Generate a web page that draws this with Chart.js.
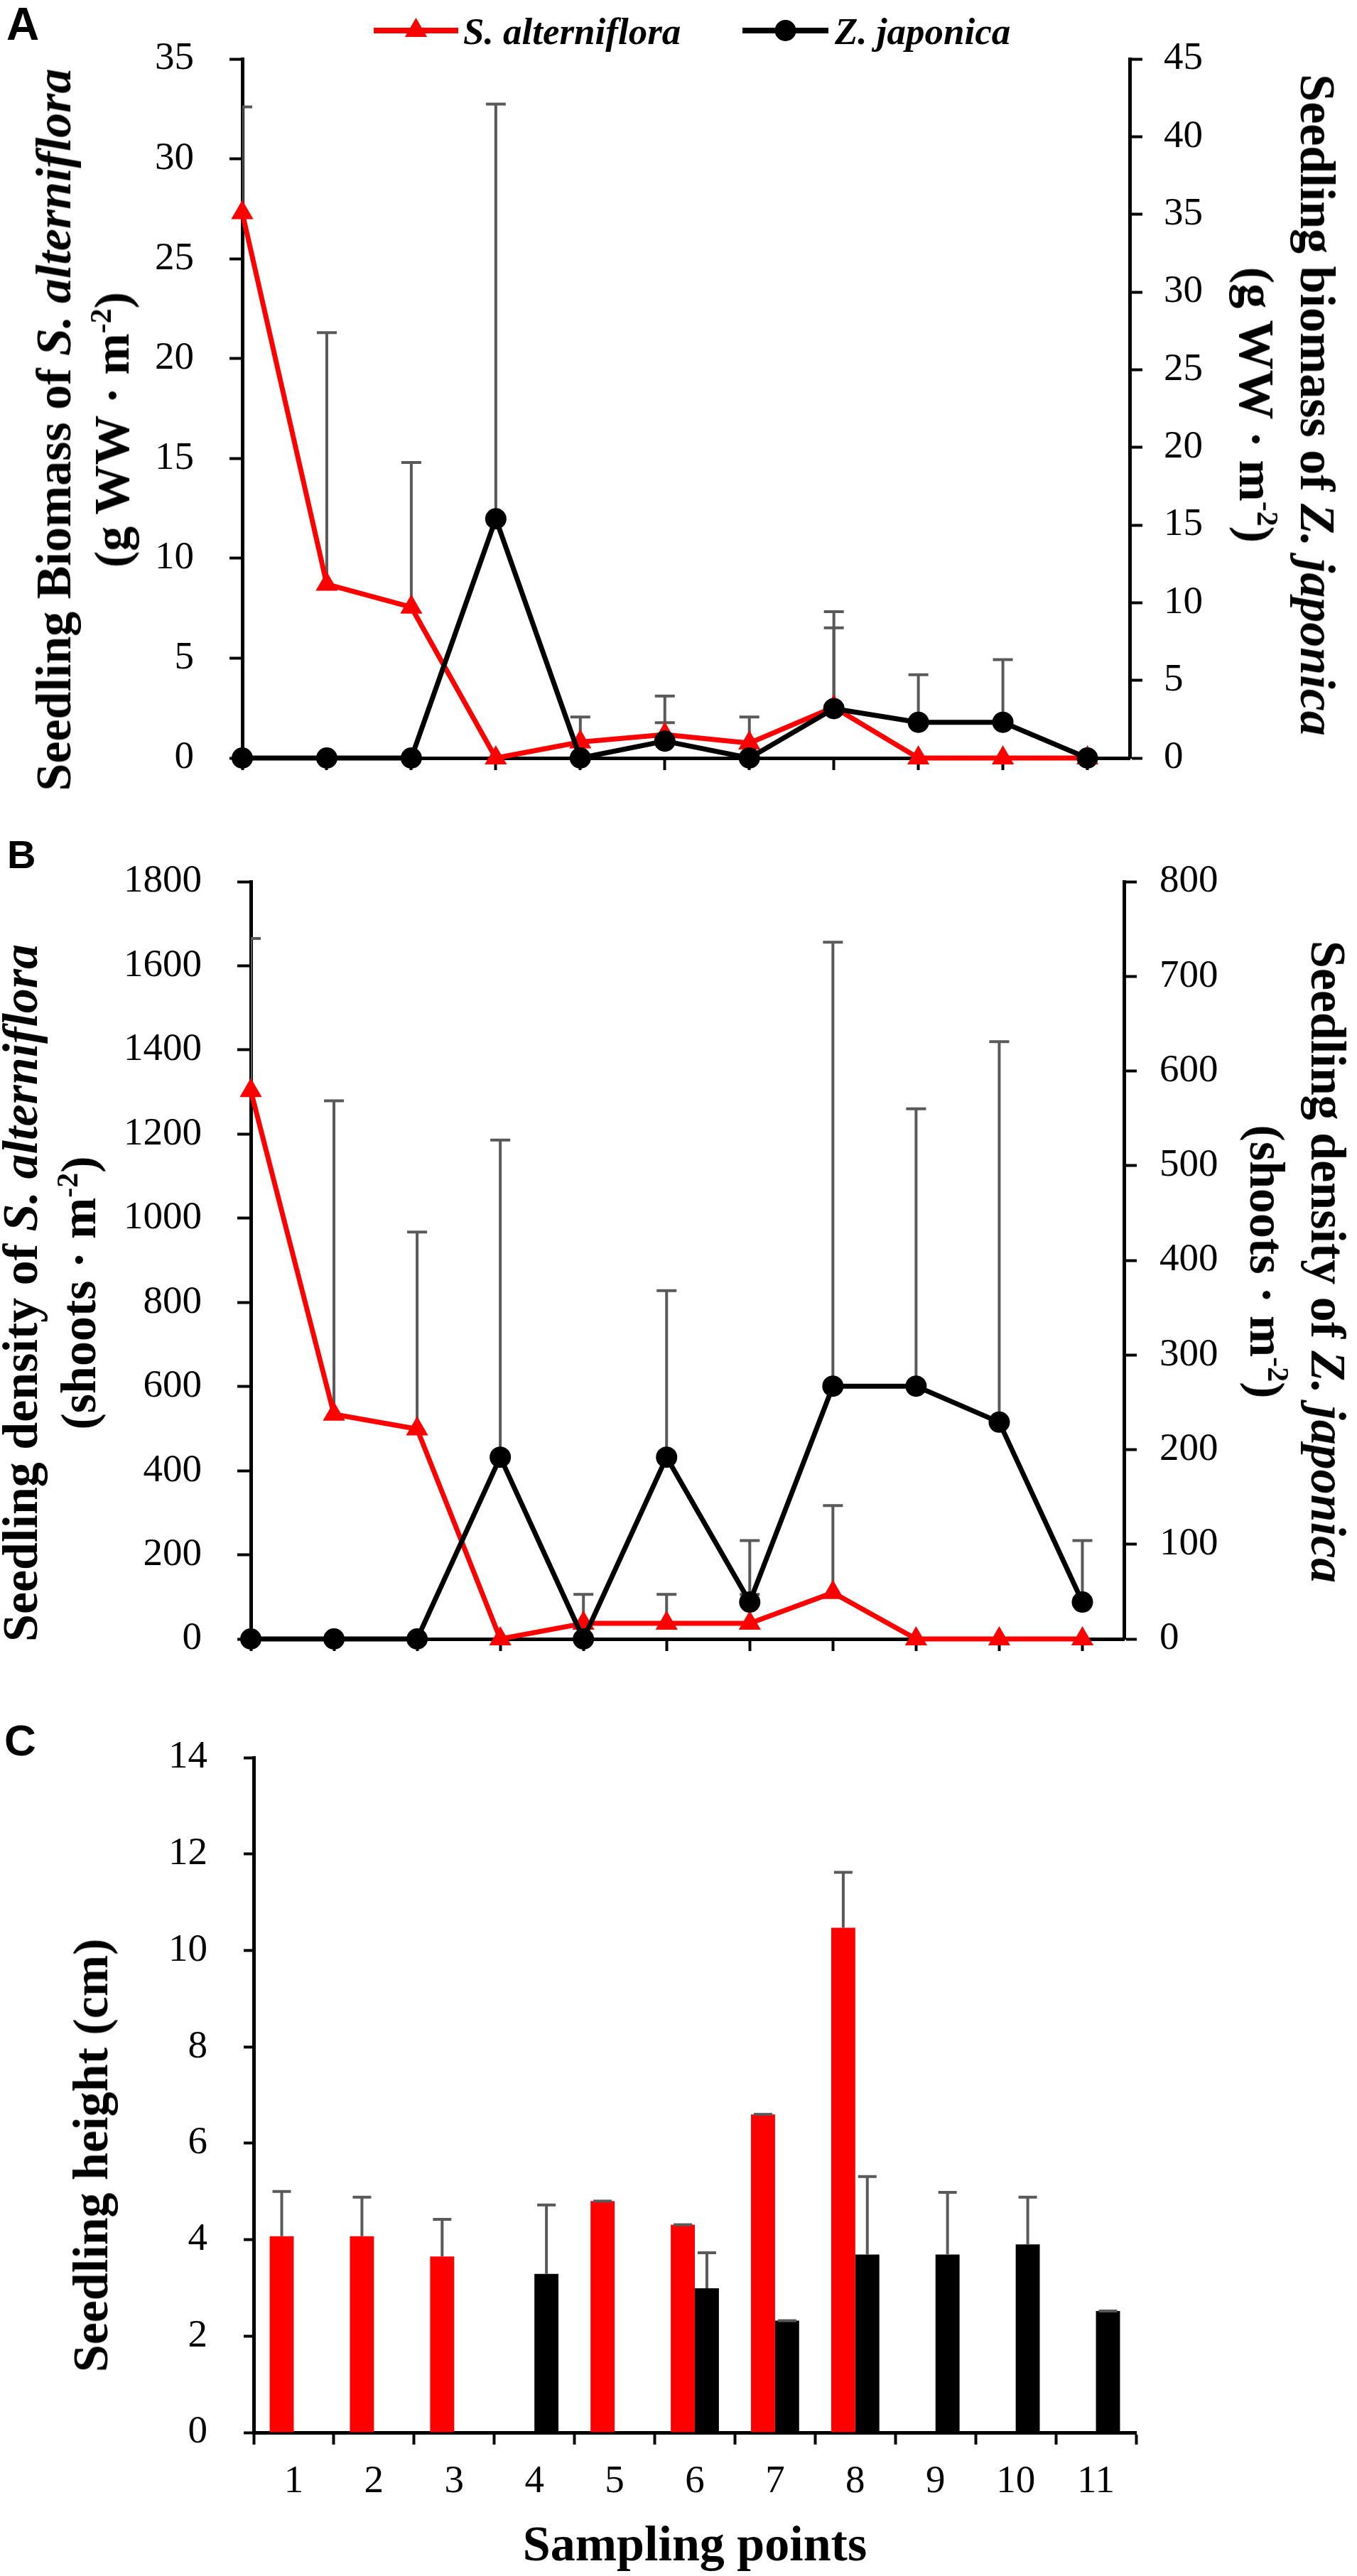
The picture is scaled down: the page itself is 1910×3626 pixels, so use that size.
<!DOCTYPE html>
<html><head><meta charset="utf-8">
<script src="https://cdn.jsdelivr.net/npm/chart.js@4.4.1/dist/chart.umd.min.js"></script>
<style>
html,body{margin:0;padding:0;background:#fff;}
body{width:1910px;height:3626px;position:relative;overflow:hidden;}
canvas{position:absolute;left:0;}
.lbl{position:absolute;font-family:'Liberation Sans',Arial,sans-serif;font-weight:bold;line-height:1;color:#000;}
.ttl{position:absolute;font-family:'Liberation Serif','Times New Roman',serif;font-weight:bold;font-size:70px;white-space:nowrap;text-align:center;color:#000;}
.ttl i{font-style:italic;}
.ttl sup{font-size:0.6em;line-height:0;vertical-align:0.6em;}
</style></head><body>
<canvas id="cA" width="1910" height="1150" style="top:0px;width:1910px;height:1150px"></canvas>
<canvas id="cB" width="1910" height="1240" style="top:1150px;width:1910px;height:1240px"></canvas>
<canvas id="cC" width="1910" height="1236" style="top:2390px;width:1910px;height:1236px"></canvas>

<div class="lbl" style="left:9px;top:2px;font-size:64px">A</div>
<div class="lbl" style="left:10px;top:1175px;font-size:56px">B</div>
<div class="lbl" style="left:6px;top:2419px;font-size:62px">C</div>

<div class="ttl" style="left:117px;top:605px;line-height:82px;transform:translate(-50%,-50%) rotate(-90deg)">Seedling Biomass of <i>S. alterniflora</i><br>(g WW · m<sup>-2</sup>)</div>
<div class="ttl" style="left:1811px;top:570px;line-height:86px;transform:translate(-50%,-50%) rotate(90deg)">Seedling biomass of <i>Z. japonica</i><br>(g WW · m<sup>-2</sup>)</div>
<div class="ttl" style="left:70px;top:1820px;line-height:82px;transform:translate(-50%,-50%) rotate(-90deg)">Seedling density of <i>S. alterniflora</i><br>(shoots · m<sup>-2</sup>)</div>
<div class="ttl" style="left:1826px;top:1776px;line-height:86px;transform:translate(-50%,-50%) rotate(90deg)">Seedling density of <i>Z. japonica</i><br>(shoots · m<sup>-2</sup>)</div>
<div class="ttl" style="left:128px;top:3034px;line-height:80px;transform:translate(-50%,-50%) rotate(-90deg)">Seedling height (cm)</div>
<div class="ttl" style="left:978px;top:3546px;line-height:70px;transform:translateX(-50%)">Sampling points</div>

<script>
// ---------------- data ----------------
const categories = ['1','2','3','4','5','6','7','8','9','10','11'];
const seriesNames = ['S. alterniflora', 'Z. japonica'];

// Panel A: seedling biomass (g WW m-2)
const biomassSA    = [27.3, 8.7, 7.55, 0, 0.8, 1.17, 0.75, 2.54, 0, 0, 0];
const biomassSAErr = [5.3, 12.6, 7.25, 0, 1.25, 0.6, 1.3, 3.98, 0, 0, 0];
const biomassZJ    = [0, 0, 0, 15.4, 0, 1.09, 0, 3.18, 2.3, 2.3, 0];
const biomassZJErr = [0, 0, 0, 26.7, 0, 2.9, 0, 6.24, 3.06, 4.03, 0];

// Panel B: seedling density (shoots m-2)
const densitySA    = [1303, 534, 499, 0, 37, 37, 37, 110, 0, 0, 0];
const densitySAErr = [362, 745, 468, 0, 69, 69, 69, 207, 0, 0, 0];
const densityZJ    = [0, 0, 0, 192, 0, 192, 39, 267, 267, 229, 39];
const densityZJErr = [0, 0, 0, 335, 0, 176, 65, 469, 293, 402, 65];

// Panel C: seedling height (cm)
const heightSA    = [4.07, 4.07, 3.65, null, 4.8, 4.31, 6.6, 10.47, null, null, null];
const heightSAErr = [0.93, 0.81, 0.77, null, 0, 0, 0, 1.15, null, null, null];
const heightZJ    = [null, null, null, 3.29, null, 2.99, 2.32, 3.69, 3.69, 3.9, 2.52];
const heightZJErr = [null, null, null, 1.43, null, 0.74, 0, 1.62, 1.29, 0.98, 0];

// axis ranges [min, max, step]
const axisA = {left: [0, 35, 5], right: [0, 45, 5]};
const axisB = {left: [0, 1800, 200], right: [0, 800, 100]};
const axisC = {left: [0, 14, 2]};

// ---------------- styles ----------------
const RED = '#FF0000', BLACK = '#000000', GREY = '#595959';
Chart.defaults.font.family = 'Liberation Serif';
Chart.defaults.color = '#000';
const tickFont = {family: 'Liberation Serif', size: 55, weight: 'normal'};

const errorBarPlugin = {
  id: 'errorBars',
  beforeDatasetsDraw(chart, args, o) { if (o.phase === 'before') drawErrors(chart, o); },
  afterDatasetsDraw(chart, args, o) { if (o.phase === 'after') drawErrors(chart, o); }
};
function drawErrors(chart, o) {
  const ctx = chart.ctx, a = chart.chartArea;
  ctx.save();
  ctx.beginPath();
  ctx.rect(a.left, a.top - 10, a.right - a.left, a.bottom - a.top + 10);
  ctx.clip();
  ctx.strokeStyle = GREY;
  ctx.lineWidth = o.lineWidth;
  chart.data.datasets.forEach((ds, di) => {
    if (!ds.errors) return;
    const meta = chart.getDatasetMeta(di);
    const ys = chart.scales[meta.yAxisID];
    meta.data.forEach((el, i) => {
      const raw = ds.data[i];
      const v = (raw !== null && typeof raw === 'object') ? raw.y : raw;
      if (v === null || v === undefined) return;
      const e = ds.errors[i] || 0;
      if (!(e > 0) && !(o.capZero && v > 0)) return;
      const x = el.x;
      const y0 = ys.getPixelForValue(v), y1 = ys.getPixelForValue(v + e);
      ctx.beginPath();
      ctx.moveTo(x, y0); ctx.lineTo(x, y1);
      ctx.moveTo(x - o.cap / 2, y1); ctx.lineTo(x + o.cap / 2, y1);
      ctx.stroke();
    });
  });
  ctx.restore();
}

const legendPlugin = {
  id: 'lineLegend',
  afterDraw(chart, args, o) {
    if (!o.items) return;
    const ctx = chart.ctx;
    ctx.save();
    o.items.forEach((it, k) => {
      const ds = chart.data.datasets[k];
      ctx.strokeStyle = ds.borderColor; ctx.lineWidth = o.lineWidth;
      ctx.beginPath(); ctx.moveTo(it.x0, o.y); ctx.lineTo(it.x1, o.y); ctx.stroke();
      ctx.fillStyle = ds.borderColor;
      Chart.helpers.drawPoint(ctx, {pointStyle: ds.pointStyle, radius: ds.pointRadius, borderWidth: 0, rotation: 0}, (it.x0 + it.x1) / 2, o.y);
      ctx.fillStyle = '#000';
      ctx.font = o.font;
      ctx.textBaseline = 'alphabetic';
      ctx.fillText(ds.label, it.tx, o.baseline);
    });
    ctx.restore();
  }
};

function yAxis(pos, range, pad, tl, width) {
  return {
    type: 'linear', position: pos, min: range[0], max: range[1],
    ticks: {stepSize: range[2], padding: pad, color: '#000', font: tickFont, callback: v => String(v)},
    grid: {drawOnChartArea: false, drawTicks: true, tickLength: tl, tickWidth: 4, tickColor: '#000'},
    border: {display: true, color: '#000', width: 5},
    afterFit(s) { s.width = width; }
  };
}
function xLinear(height) {
  return {
    type: 'linear', position: 'bottom', min: 1, max: 11.5,
    afterBuildTicks(s) { s.ticks = categories.map(c => ({value: Number(c)})); },
    ticks: {display: false},
    grid: {drawOnChartArea: false, drawTicks: true, tickLength: 17, tickWidth: 4, tickColor: '#000'},
    border: {display: true, color: '#000', width: 5},
    afterFit(s) { s.height = height; }
  };
}
function lineSet(label, vals, errs, axis, color, style, radius, order) {
  return {
    label, data: categories.map((c, i) => ({x: Number(c), y: vals[i]})),
    errors: errs, yAxisID: axis, xAxisID: 'x',
    borderColor: color, backgroundColor: color, pointBackgroundColor: color,
    borderWidth: 7, pointStyle: style, pointRadius: radius, pointHoverRadius: radius,
    pointBorderWidth: 0, tension: 0, clip: false, order, borderJoinStyle: 'round'
  };
}
const baseOpts = {responsive: false, animation: false, devicePixelRatio: 1,
  events: [], plugins: {legend: {display: false}, tooltip: {enabled: false}}};

// ---------------- Panel A ----------------
new Chart(document.getElementById('cA'), {
  type: 'line',
  data: {datasets: [
    lineSet(seriesNames[0], biomassSA, biomassSAErr, 'y', RED, 'triangle', 18, 2),
    lineSet(seriesNames[1], biomassZJ, biomassZJErr, 'y2', BLACK, 'circle', 15, 1)
  ]},
  options: Object.assign({}, baseOpts, {
    layout: {autoPadding: false, padding: {left: 0, right: 0, top: 24, bottom: 0}},
    scales: {
      x: xLinear(1150 - 1098),
      y: yAxis('left', axisA.left, 50, 18, 341),
      y2: yAxis('right', axisA.right, 30, 18, 1910 - 1590)
    },
    plugins: Object.assign({}, baseOpts.plugins, {
      errorBars: {phase: 'before', lineWidth: 4, cap: 28, capZero: false},
      lineLegend: {y: 43, baseline: 62, lineWidth: 8, font: "bold italic 53px 'Liberation Serif'",
        items: [{x0: 526, x1: 645, tx: 652}, {x0: 1045, x1: 1166, tx: 1175}]}
    })
  }),
  plugins: [errorBarPlugin, legendPlugin]
});

// ---------------- Panel B ----------------
new Chart(document.getElementById('cB'), {
  type: 'line',
  data: {datasets: [
    lineSet(seriesNames[0], densitySA, densitySAErr, 'y', RED, 'triangle', 18, 2),
    lineSet(seriesNames[1], densityZJ, densityZJErr, 'y2', BLACK, 'circle', 15, 1)
  ]},
  options: Object.assign({}, baseOpts, {
    layout: {autoPadding: false, padding: {left: 0, right: 0, top: 1241 - 1150, bottom: 0}},
    scales: {
      x: xLinear(1240 - (2312 - 1150)),
      y: yAxis('left', axisB.left, 50, 19, 353),
      y2: yAxis('right', axisB.right, 32, 18, 1910 - 1582)
    },
    plugins: Object.assign({}, baseOpts.plugins, {
      errorBars: {phase: 'before', lineWidth: 4, cap: 28, capZero: false}
    })
  }),
  plugins: [errorBarPlugin]
});

// ---------------- Panel C ----------------
new Chart(document.getElementById('cC'), {
  type: 'bar',
  data: {labels: categories, datasets: [
    {label: seriesNames[0], data: heightSA, errors: heightSAErr, backgroundColor: RED,
     categoryPercentage: 0.6, barPercentage: 1.0, borderWidth: 0},
    {label: seriesNames[1], data: heightZJ, errors: heightZJErr, backgroundColor: BLACK,
     categoryPercentage: 0.6, barPercentage: 1.0, borderWidth: 0}
  ]},
  options: Object.assign({}, baseOpts, {
    layout: {autoPadding: false, padding: {left: 0, right: 1910 - 1599, top: 2464 - 2390, bottom: 0}},
    scales: {
      x: {type: 'category', offset: true,
          ticks: {padding: 20, color: '#000', font: tickFont, maxRotation: 0, autoSkip: false},
          grid: {offset: true, drawOnChartArea: false, drawTicks: true, tickLength: 17, tickWidth: 4, tickColor: '#000'},
          border: {display: true, color: '#000', width: 5},
          afterFit(s) { s.height = 1236 - (3424 - 2390); }},
      y: yAxis('left', axisC.left, 51, 14, 357)
    },
    plugins: Object.assign({}, baseOpts.plugins, {
      errorBars: {phase: 'after', lineWidth: 4, cap: 26, capZero: true}
    })
  }),
  plugins: [errorBarPlugin]
});
</script>
</body></html>
